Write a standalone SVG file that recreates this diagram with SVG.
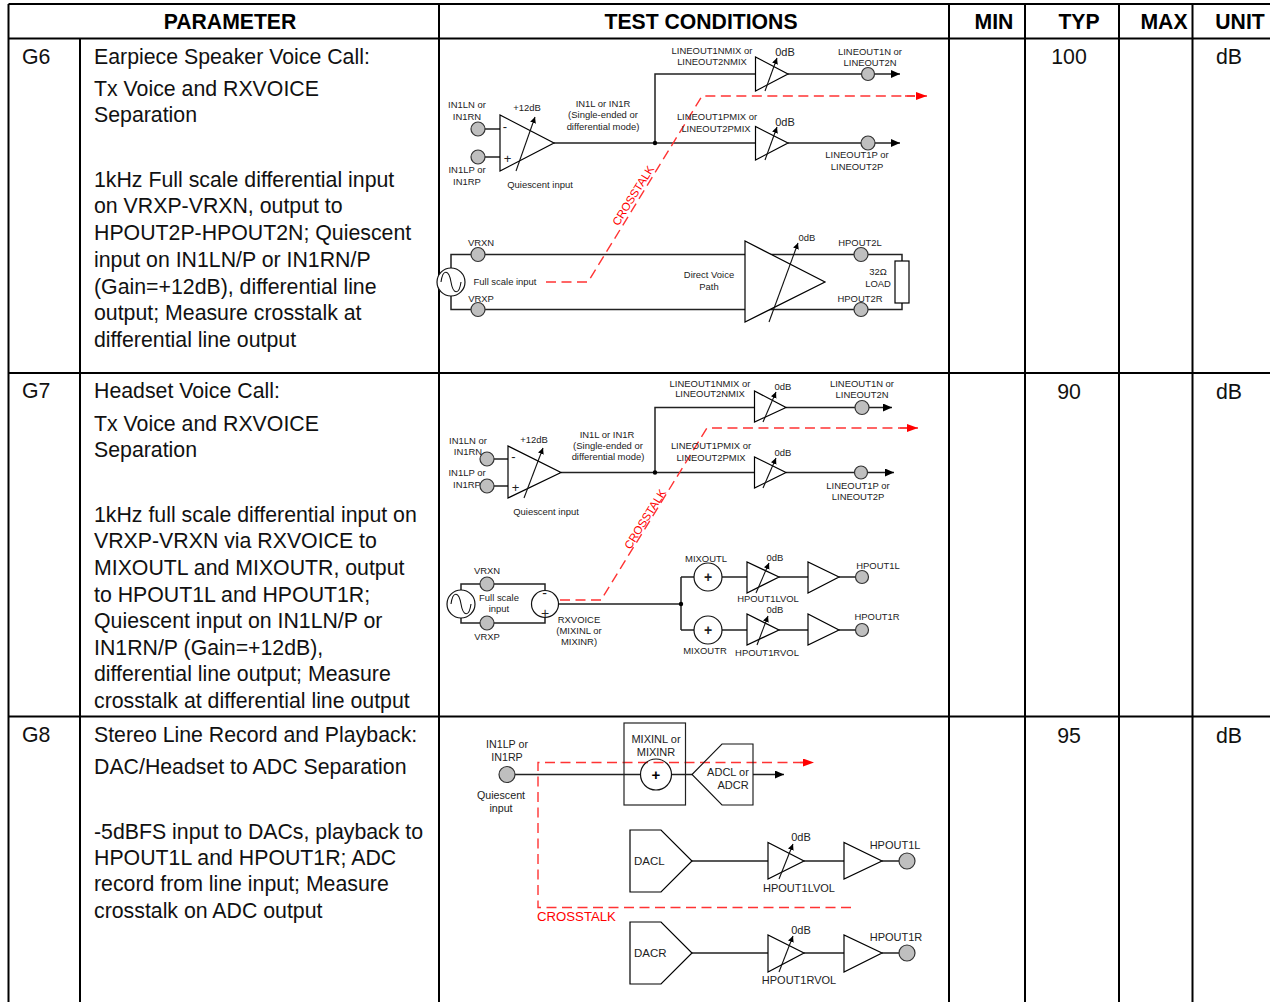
<svg xmlns="http://www.w3.org/2000/svg" width="1270" height="1002" viewBox="0 0 1270 1002">
<defs>
<marker id="ah" markerUnits="userSpaceOnUse" markerWidth="10" markerHeight="8" refX="9" refY="4" orient="auto"><path d="M0 0L9 4L0 8Z" fill="#000"/></marker>
<marker id="gh" markerUnits="userSpaceOnUse" markerWidth="7" markerHeight="8" refX="6" refY="3" orient="auto"><path d="M0 0L6 3L0 6Z" fill="#000"/></marker>
<marker id="rh" markerUnits="userSpaceOnUse" markerWidth="12" markerHeight="10" refX="11" refY="4" orient="auto"><path d="M0 0L11 4L0 8Z" fill="#f00"/></marker>
</defs>
<style>
text{font-family:"Liberation Sans",Arial,sans-serif;fill:#000}
.h{font-size:21.200px;font-weight:700;text-anchor:middle}
.b{font-size:21.300px;fill:#111}
.c{font-size:21.300px;fill:#111;text-anchor:middle}
.s{font-size:9.450px;text-anchor:middle;fill:#222}
.m{font-size:11px;text-anchor:middle;fill:#222}
.n{font-size:10.700px;text-anchor:middle;fill:#222}
.r{font-size:11.400px;fill:#f00}
.t{stroke:#000;stroke-width:2;fill:none}
.w{stroke:#222;stroke-width:1.500;fill:none}
.a{stroke:#000;stroke-width:1.200;fill:#fff}
.g{stroke:#111;stroke-width:1.100;fill:none;marker-end:url(#gh)}
.p{stroke:#333;stroke-width:1.200;fill:#bfbfbf}
.o{stroke:#111;stroke-width:1.200;fill:#fff}
.d{stroke:#f33;stroke-width:1.400;fill:none;stroke-dasharray:10 5.500}
.k{fill:#000}
</style>

<g id="table">
<path class="t" d="M8.500 4H1270M8.500 38.500H1270M8.500 373H1270M8.500 716.500H1270M8.500 4V1002M80 38.500V1002M439 4V1002M949 4V1002M1025 4V1002M1119 4V1002M1192.500 4V1002"/>
<text class="h" x="230" y="29">PARAMETER</text>
<text class="h" x="701" y="29">TEST CONDITIONS</text>
<text class="h" x="994" y="29">MIN</text>
<text class="h" x="1079" y="29">TYP</text>
<text class="h" x="1164" y="29">MAX</text>
<text class="h" x="1240" y="29">UNIT</text>
<text class="b" x="22" y="64">G6</text>
<text class="b" x="94" y="64">Earpiece Speaker Voice Call:</text>
<text class="b" x="94" y="96">Tx Voice and RXVOICE</text>
<text class="b" x="94" y="122">Separation</text>
<text class="b" x="94" y="187">1kHz Full scale differential input</text>
<text class="b" x="94" y="213">on VRXP-VRXN, output to</text>
<text class="b" x="94" y="240">HPOUT2P-HPOUT2N; Quiescent</text>
<text class="b" x="94" y="267">input on IN1LN/P or IN1RN/P</text>
<text class="b" x="94" y="294">(Gain=+12dB), differential line</text>
<text class="b" x="94" y="320">output; Measure crosstalk at</text>
<text class="b" x="94" y="347">differential line output</text>
<text class="c" x="1069" y="64">100</text>
<text class="c" x="1229" y="64">dB</text>
<text class="b" x="22" y="398">G7</text>
<text class="b" x="94" y="398">Headset Voice Call:</text>
<text class="b" x="94" y="431">Tx Voice and RXVOICE</text>
<text class="b" x="94" y="457">Separation</text>
<text class="b" x="94" y="522">1kHz full scale differential input on</text>
<text class="b" x="94" y="548">VRXP-VRXN via RXVOICE to</text>
<text class="b" x="94" y="575">MIXOUTL and MIXOUTR, output</text>
<text class="b" x="94" y="602">to HPOUT1L and HPOUT1R;</text>
<text class="b" x="94" y="628">Quiescent input on IN1LN/P or</text>
<text class="b" x="94" y="655">IN1RN/P (Gain=+12dB),</text>
<text class="b" x="94" y="681">differential line output; Measure</text>
<text class="b" x="94" y="708">crosstalk at differential line output</text>
<text class="c" x="1069" y="399">90</text>
<text class="c" x="1229" y="399">dB</text>
<text class="b" x="22" y="742">G8</text>
<text class="b" x="94" y="742">Stereo Line Record and Playback:</text>
<text class="b" x="94" y="774">DAC/Headset to ADC Separation</text>
<text class="b" x="94" y="839">-5dBFS input to DACs, playback to</text>
<text class="b" x="94" y="865">HPOUT1L and HPOUT1R; ADC</text>
<text class="b" x="94" y="891">record from line input; Measure</text>
<text class="b" x="94" y="918">crosstalk on ADC output</text>
<text class="c" x="1069" y="743">95</text>
<text class="c" x="1229" y="743">dB</text>
</g>

<g id="connectors">
<path class="w" d="M485 129H500M485 157H500M554 143H755M655 143V74H755M788 74H861M788 143H861"/>
<path class="w" marker-end="url(#ah)" d="M875 74H900"/>
<path class="w" marker-end="url(#ah)" d="M875 143H900"/>
<path class="w" d="M471 254.500H451V268M451 296V309.500H471M485 254.500H854M485 309.500H854M868 254.500H902V261M868 309.500H902V303"/>
<path class="d" d="M546 282H588L702 96H915"/>
<path class="d" marker-end="url(#rh)" d="M905 96H927" stroke-dasharray="none"/>

<path class="w" d="M494 459H508M494 486H508M561 472.500H754M655 472.500V407.500H754M786 407.500H855M786 472.500H855"/>
<path class="w" marker-end="url(#ah)" d="M869 407.500H892"/>
<path class="w" marker-end="url(#ah)" d="M868 472.500H894"/>
<path class="w" d="M480 584H461V590M494 584H545V590.500M480 623H461V618M494 623H545V617.500M558.500 604H681M681 577H694M681 630H694M681 577V630M722 577H747M779 577H808M839 577H855M722 630H747M779 630H808M839 630H855"/>
<path class="d" d="M560 600H601L707 428H908"/>
<path class="d" marker-end="url(#rh)" d="M900 428H918" stroke-dasharray="none"/>

<path class="w" d="M515 774.500H640.500M671.500 774.500H692"/>
<path class="w" marker-end="url(#ah)" d="M753 774.500H784"/>
<path class="w" d="M692 861H768M804 861H844M882 861H899M692 953H768M804 953H844M882 953H899"/>
<path class="d" d="M851 907.500H538V762.500H803"/>
<path class="d" marker-end="url(#rh)" d="M800 762.500H814" stroke-dasharray="none"/>
</g>

<g id="g6-diagram">
<g id="g6-in1ln"><circle class="p" cx="478" cy="129" r="7"/><text class="s" x="467" y="108">IN1LN or</text><text class="s" x="467" y="120">IN1RN</text></g>
<g id="g6-in1lp"><circle class="p" cx="478" cy="157" r="7"/><text class="s" x="467" y="173">IN1LP or</text><text class="s" x="467" y="185">IN1RP</text></g>
<g id="g6-pga"><path class="a" d="M500 115V171L554 143Z"/><path class="g" d="M516 171L535 117"/><text class="m" x="505" y="131" style="font-size:13px">-</text><text class="m" x="507.500" y="163" style="font-size:13px">+</text><text class="s" x="527" y="111">+12dB</text><text class="s" x="540" y="188">Quiescent input</text></g>
<g id="g6-in1-label"><text class="s" x="603" y="107">IN1L or IN1R</text><text class="s" x="603" y="118">(Single-ended or</text><text class="s" x="603" y="130">differential mode)</text></g>
<circle id="g6-junction" class="k" cx="655" cy="143" r="2.200"/>
<g id="g6-nmix"><path class="a" d="M755.500 57V91L788 74Z"/><path class="g" d="M765 91L777 58"/><text class="s" x="712" y="54">LINEOUT1NMIX or</text><text class="s" x="712" y="65">LINEOUT2NMIX</text><text class="m" x="785" y="56">0dB</text></g>
<g id="g6-pmix"><path class="a" d="M755.500 126.500V160L788 143Z"/><path class="g" d="M765 160L777 127"/><text class="s" x="717" y="120">LINEOUT1PMIX or</text><text class="s" x="716" y="132">LINEOUT2PMIX</text><text class="m" x="785" y="126">0dB</text></g>
<g id="g6-lineoutn"><circle class="p" cx="868" cy="74" r="6.500"/><text class="s" x="870" y="55">LINEOUT1N or</text><text class="s" x="870" y="66">LINEOUT2N</text></g>
<g id="g6-lineoutp"><circle class="p" cx="868" cy="143" r="7"/><text class="s" x="857" y="158">LINEOUT1P or</text><text class="s" x="857" y="170">LINEOUT2P</text></g>
<text class="r" transform="translate(618.400 226.500) rotate(-58)">CROSSTALK</text>
<g id="g6-vrxn"><circle class="p" cx="478" cy="254.500" r="7"/><text class="s" x="481" y="246">VRXN</text></g>
<g id="g6-vrxp"><circle class="p" cx="478" cy="309.500" r="7"/><text class="s" x="481" y="302">VRXP</text></g>
<g id="g6-source"><circle class="o" cx="451" cy="282" r="14"/><path class="w" style="stroke:#111;stroke-width:1.100" d="M441 282C443 268 449 270 451 282S459 296 461 282"/></g>
<text class="s" x="505" y="285">Full scale input</text>
<text class="s" x="709" y="278">Direct Voice</text>
<text class="s" x="709" y="290">Path</text>
<g id="g6-hp"><path class="a" d="M745 241V322L825 282Z"/><path class="g" d="M769 322L798 243"/><text class="s" x="807" y="241">0dB</text></g>
<g id="g6-hpout2l"><circle class="p" cx="861" cy="254.500" r="7"/><text class="s" x="860" y="246">HPOUT2L</text></g>
<g id="g6-hpout2r"><circle class="p" cx="861" cy="309.500" r="7"/><text class="s" x="860" y="302">HPOUT2R</text></g>
<g id="g6-load"><rect class="a" x="895" y="261" width="14" height="42"/><text class="s" x="878" y="275">32Ω</text><text class="s" x="878" y="287">LOAD</text></g>
</g>

<g id="g7-diagram">
<g id="g7-in1ln"><circle class="p" cx="487" cy="459" r="7"/><text class="s" x="468" y="444">IN1LN or</text><text class="s" x="468" y="455">IN1RN</text></g>
<g id="g7-in1lp"><circle class="p" cx="487" cy="486" r="7"/><text class="s" x="467" y="476">IN1LP or</text><text class="s" x="467" y="488">IN1RP</text></g>
<g id="g7-pga"><path class="a" d="M508 446V498L561 472.500Z"/><path class="g" d="M524 498L543 448"/><text class="m" x="513.500" y="461" style="font-size:13px">-</text><text class="m" x="515.500" y="492" style="font-size:13px">+</text><text class="s" x="534" y="443">+12dB</text><text class="s" x="546" y="515">Quiescent input</text></g>
<g id="g7-in1-label"><text class="s" x="607" y="438">IN1L or IN1R</text><text class="s" x="608" y="449">(Single-ended or</text><text class="s" x="608" y="460">differential mode)</text></g>
<circle id="g7-junction" class="k" cx="655" cy="472.500" r="2.200"/>
<g id="g7-nmix"><path class="a" d="M754.500 391V422L786 407.500Z"/><path class="g" d="M763 422L776 392"/><text class="s" x="710" y="387">LINEOUT1NMIX or</text><text class="s" x="710" y="397">LINEOUT2NMIX</text><text class="s" x="783" y="390">0dB</text></g>
<g id="g7-pmix"><path class="a" d="M754.500 457V488L786 472.500Z"/><path class="g" d="M763 488L776 458"/><text class="s" x="711" y="449">LINEOUT1PMIX or</text><text class="s" x="711" y="461">LINEOUT2PMIX</text><text class="s" x="783" y="456">0dB</text></g>
<g id="g7-lineoutn"><circle class="p" cx="862" cy="407.500" r="7"/><text class="s" x="862" y="387">LINEOUT1N or</text><text class="s" x="862" y="398">LINEOUT2N</text></g>
<g id="g7-lineoutp"><circle class="p" cx="861" cy="472.500" r="6.500"/><text class="s" x="858" y="489">LINEOUT1P or</text><text class="s" x="858" y="500">LINEOUT2P</text></g>
<text class="r" transform="translate(630.400 550) rotate(-58)">CROSSTALK</text>
<g id="g7-source"><circle class="o" cx="461" cy="604" r="14"/><path class="w" style="stroke:#111;stroke-width:1.100" d="M451 604C453 590 459 592 461 604S469 618 471 604"/></g>
<g id="g7-vrxn"><circle class="p" cx="487" cy="584" r="7"/><text class="s" x="487" y="574">VRXN</text></g>
<g id="g7-vrxp"><circle class="p" cx="487" cy="623" r="7"/><text class="s" x="487" y="640">VRXP</text></g>
<text class="s" x="499" y="601">Full scale</text>
<text class="s" x="499" y="612">input</text>
<g id="g7-rxvoice"><circle class="o" cx="545" cy="604" r="13.500"/><text class="m" x="544.500" y="598" style="font-size:14px">-</text><text class="m" x="545" y="618" style="font-size:14px">+</text><text class="s" x="579" y="623">RXVOICE</text><text class="s" x="579" y="634">(MIXINL or</text><text class="s" x="579" y="645">MIXINR)</text></g>
<circle id="g7-junction2" class="k" cx="681" cy="604" r="2.200"/>
<g id="g7-mixoutl"><circle class="o" cx="708" cy="577" r="14"/><text class="m" x="708" y="582" style="font-size:14px;font-weight:700">+</text><text class="s" x="706" y="562">MIXOUTL</text></g>
<g id="g7-hp1lvol"><path class="a" d="M747 562V593L779 577Z"/><path class="g" d="M756 593L769 563"/><text class="s" x="775" y="561">0dB</text><text class="s" x="768" y="602">HPOUT1LVOL</text></g>
<path id="g7-bufl" class="a" d="M808 562V593L839 577Z"/>
<g id="g7-hpout1l"><circle class="p" cx="862" cy="577" r="6.500"/><text class="s" x="878" y="569">HPOUT1L</text></g>
<g id="g7-mixoutr"><circle class="o" cx="708" cy="630" r="14"/><text class="m" x="708" y="635" style="font-size:14px;font-weight:700">+</text><text class="s" x="705" y="654">MIXOUTR</text></g>
<g id="g7-hp1rvol"><path class="a" d="M747 614V645L779 630Z"/><path class="g" d="M757 645L768 616"/><text class="s" x="775" y="613">0dB</text><text class="s" x="767" y="656">HPOUT1RVOL</text></g>
<path id="g7-bufr" class="a" d="M808 614V645L839 630Z"/>
<g id="g7-hpout1r"><circle class="p" cx="862" cy="630" r="6.500"/><text class="s" x="877" y="620">HPOUT1R</text></g>
</g>

<g id="g8-diagram">
<g id="g8-in1lp"><circle class="p" cx="507" cy="774.500" r="8"/><text class="n" x="507" y="748">IN1LP or</text><text class="n" x="507" y="761">IN1RP</text><text class="n" x="501" y="799">Quiescent</text><text class="n" x="501" y="812">input</text></g>
<g id="g8-mixin"><rect x="624" y="723" width="61.500" height="82" fill="none" stroke="#222" stroke-width="1.200"/><circle class="o" cx="656" cy="774.500" r="15.500" style="fill:none"/><text class="m" x="656" y="780" style="font-size:15px;font-weight:700;fill:#000">+</text><text class="m" x="656" y="743">MIXINL or</text><text class="m" x="656" y="756">MIXINR</text></g>
<g id="g8-adc"><path class="w" style="stroke:#111;stroke-width:1.100" d="M692 774.500L722 744H753V805H722Z"/><text class="m" x="728" y="776">ADCL or</text><text class="m" x="733" y="789">ADCR</text></g>
<g id="g8-dacl"><path class="a" d="M630 830H661L692 861L661 892H630Z"/><text class="m" x="634" y="865" style="text-anchor:start;font-size:11.500px">DACL</text></g>
<g id="g8-hp1lvol"><path class="a" d="M768 842.500V879L804 861Z"/><path class="g" d="M779 879L793 844"/><text class="m" x="801" y="841">0dB</text><text class="m" x="799" y="892">HPOUT1LVOL</text></g>
<path id="g8-bufl" class="a" d="M844 842.500V879L882 861Z"/>
<g id="g8-hpout1l"><circle class="p" cx="907" cy="861" r="8"/><text class="m" x="895" y="849">HPOUT1L</text></g>
<g id="g8-dacr"><path class="a" d="M630 922H661L692 953L661 984H630Z"/><text class="m" x="634" y="957" style="text-anchor:start;font-size:11.500px">DACR</text></g>
<g id="g8-hp1rvol"><path class="a" d="M768 935V972L804 953Z"/><path class="g" d="M779 972L793 936"/><text class="m" x="801" y="934">0dB</text><text class="m" x="799" y="984">HPOUT1RVOL</text></g>
<path id="g8-bufr" class="a" d="M844 935V972L882 953Z"/>
<g id="g8-hpout1r"><circle class="p" cx="907" cy="953" r="8"/><text class="m" x="896" y="941">HPOUT1R</text></g>
<text class="r" x="537" y="921" style="font-size:13.200px">CROSSTALK</text>
</g>
</svg>
